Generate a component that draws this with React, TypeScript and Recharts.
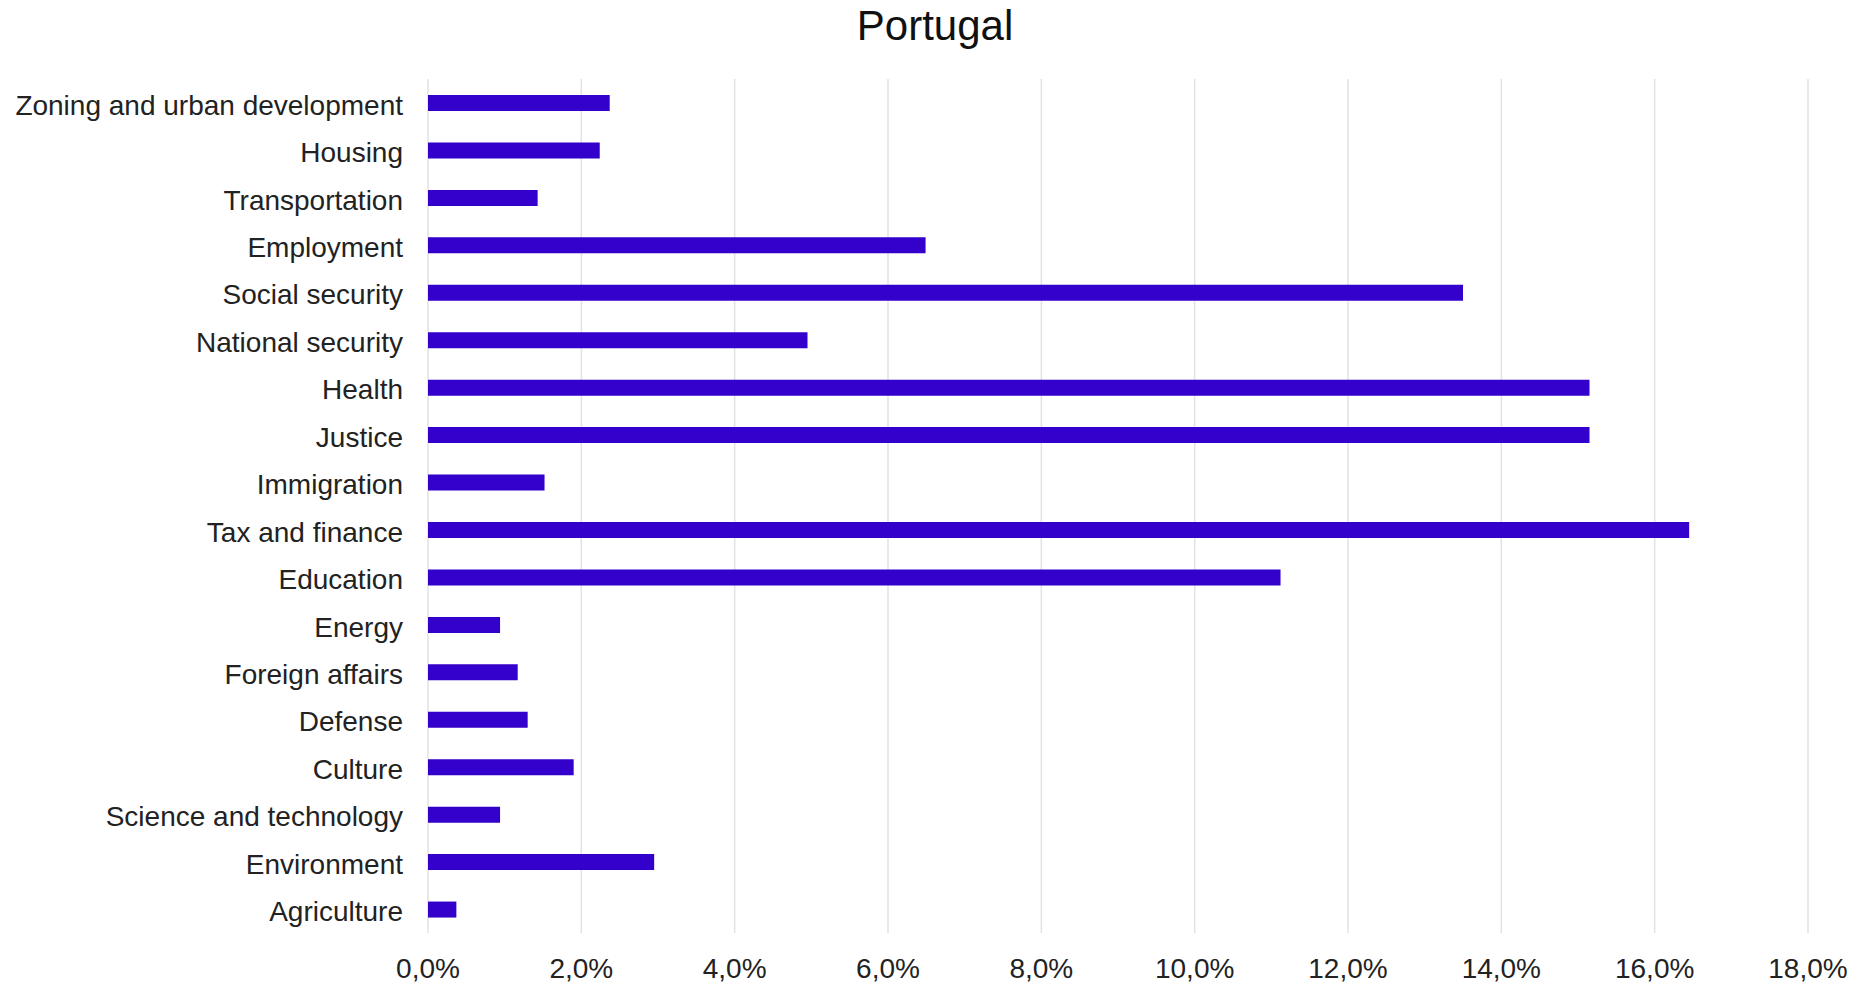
import { BarChart, Bar, XAxis, YAxis, CartesianGrid } from 'recharts';

const categories = [
  'Zoning and urban development',
  'Housing',
  'Transportation',
  'Employment',
  'Social security',
  'National security',
  'Health',
  'Justice',
  'Immigration',
  'Tax and finance',
  'Education',
  'Energy',
  'Foreign affairs',
  'Defense',
  'Culture',
  'Science and technology',
  'Environment',
  'Agriculture',
];

// share of each policy area, in percent
const shares = [2.37, 2.24, 1.43, 6.49, 13.5, 4.95, 15.15, 15.15, 1.52, 16.45, 11.12, 0.94, 1.17, 1.3, 1.9, 0.94, 2.95, 0.37];

const xTicks = [0, 2, 4, 6, 8, 10, 12, 14, 16, 18];

const data = categories.map((name, i) => ({ name, value: shares[i] }));

const fmtPct = (v: number) => v.toFixed(1).replace('.', ',') + '%';

const FONT = '"Liberation Sans", Arial, Helvetica, sans-serif';

export default function App() {
  return (
    <div style={{ position: 'absolute', left: 0, top: 0, width: 1858, height: 984, background: '#fff', fontFamily: FONT }}>
      <div
        style={{
          position: 'absolute',
          left: 0,
          top: 0,
          width: 1870,
          textAlign: 'center',
          fontSize: 42,
          lineHeight: '52px',
          color: '#111',
        }}
      >
        Portugal
      </div>
      <BarChart
        width={1858}
        height={984}
        data={data}
        layout="vertical"
        margin={{ top: 79, right: 50, bottom: 0, left: 0 }}
        barCategoryGap={0}
      >
        <CartesianGrid horizontal={false} stroke="#e2e2e2" strokeWidth={1.5} />
        <XAxis
          type="number"
          domain={[0, 18]}
          ticks={xTicks}
          tickFormatter={fmtPct}
          axisLine={false}
          tickLine={false}
          tickSize={0}
          tickMargin={25}
          height={51}
          interval={0}
          tick={{ fill: '#222', fontSize: 28, fontFamily: FONT }}
        />
        <YAxis
          type="category"
          dataKey="name"
          width={428}
          axisLine={false}
          tickLine={false}
          tickSize={0}
          tickMargin={25}
          interval={0}
          tick={{ fill: '#222', fontSize: 28, fontFamily: FONT, dy: 2 }}
        />
        <Bar dataKey="value" fill="#3300cc" barSize={16} isAnimationActive={false} />
      </BarChart>
    </div>
  );
}
